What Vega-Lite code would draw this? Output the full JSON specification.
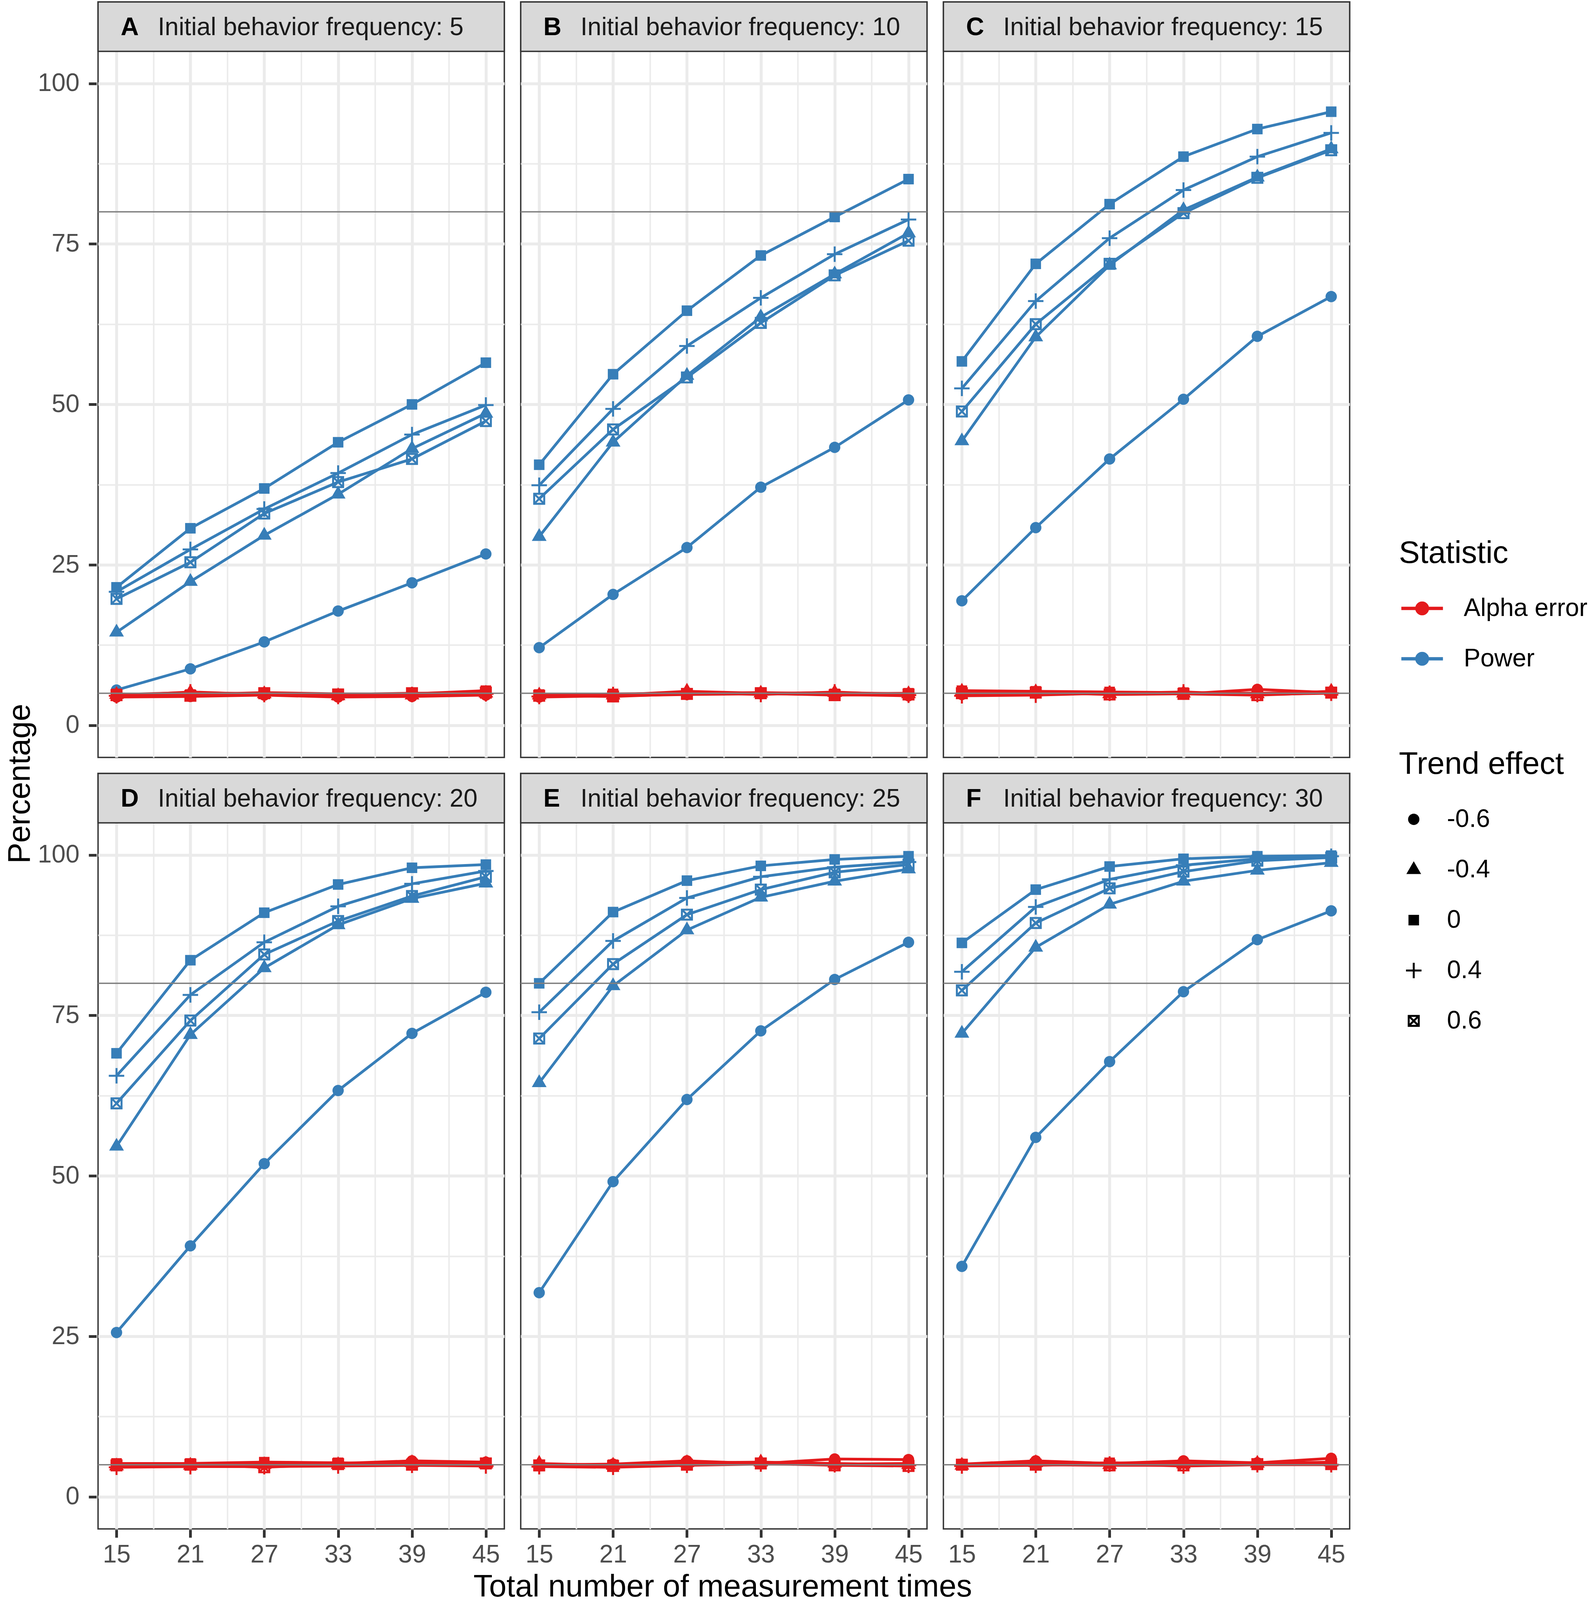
{
  "$schema": "https://vega.github.io/schema/vega-lite/v6.json",
  "padding": {"left": 12, "top": 0, "right": 5, "bottom": 0},
  "background": "white",
  "datasets": {
    "main": [
      {"panel":"A","stat":"Power","trend":"-0.6","n":15,"pct":5.5},{"panel":"A","stat":"Power","trend":"-0.6","n":21,"pct":8.8},{"panel":"A","stat":"Power","trend":"-0.6","n":27,"pct":13.0},{"panel":"A","stat":"Power","trend":"-0.6","n":33,"pct":17.8},{"panel":"A","stat":"Power","trend":"-0.6","n":39,"pct":22.2},{"panel":"A","stat":"Power","trend":"-0.6","n":45,"pct":26.7},
      {"panel":"A","stat":"Power","trend":"-0.4","n":15,"pct":14.5},{"panel":"A","stat":"Power","trend":"-0.4","n":21,"pct":22.4},{"panel":"A","stat":"Power","trend":"-0.4","n":27,"pct":29.6},{"panel":"A","stat":"Power","trend":"-0.4","n":33,"pct":36.0},{"panel":"A","stat":"Power","trend":"-0.4","n":39,"pct":43.1},{"panel":"A","stat":"Power","trend":"-0.4","n":45,"pct":48.6},
      {"panel":"A","stat":"Power","trend":"0","n":15,"pct":21.5},{"panel":"A","stat":"Power","trend":"0","n":21,"pct":30.7},{"panel":"A","stat":"Power","trend":"0","n":27,"pct":36.9},{"panel":"A","stat":"Power","trend":"0","n":33,"pct":44.1},{"panel":"A","stat":"Power","trend":"0","n":39,"pct":50.0},{"panel":"A","stat":"Power","trend":"0","n":45,"pct":56.5},
      {"panel":"A","stat":"Power","trend":"0.4","n":15,"pct":20.8},{"panel":"A","stat":"Power","trend":"0.4","n":21,"pct":27.4},{"panel":"A","stat":"Power","trend":"0.4","n":27,"pct":33.7},{"panel":"A","stat":"Power","trend":"0.4","n":33,"pct":39.3},{"panel":"A","stat":"Power","trend":"0.4","n":39,"pct":45.3},{"panel":"A","stat":"Power","trend":"0.4","n":45,"pct":49.9},
      {"panel":"A","stat":"Power","trend":"0.6","n":15,"pct":19.7},{"panel":"A","stat":"Power","trend":"0.6","n":21,"pct":25.4},{"panel":"A","stat":"Power","trend":"0.6","n":27,"pct":33.0},{"panel":"A","stat":"Power","trend":"0.6","n":33,"pct":37.9},{"panel":"A","stat":"Power","trend":"0.6","n":39,"pct":41.5},{"panel":"A","stat":"Power","trend":"0.6","n":45,"pct":47.4},
      {"panel":"B","stat":"Power","trend":"-0.6","n":15,"pct":12.1},{"panel":"B","stat":"Power","trend":"-0.6","n":21,"pct":20.4},{"panel":"B","stat":"Power","trend":"-0.6","n":27,"pct":27.7},{"panel":"B","stat":"Power","trend":"-0.6","n":33,"pct":37.1},{"panel":"B","stat":"Power","trend":"-0.6","n":39,"pct":43.3},{"panel":"B","stat":"Power","trend":"-0.6","n":45,"pct":50.7},
      {"panel":"B","stat":"Power","trend":"-0.4","n":15,"pct":29.4},{"panel":"B","stat":"Power","trend":"-0.4","n":21,"pct":44.1},{"panel":"B","stat":"Power","trend":"-0.4","n":27,"pct":54.5},{"panel":"B","stat":"Power","trend":"-0.4","n":33,"pct":63.6},{"panel":"B","stat":"Power","trend":"-0.4","n":39,"pct":70.3},{"panel":"B","stat":"Power","trend":"-0.4","n":45,"pct":76.7},
      {"panel":"B","stat":"Power","trend":"0","n":15,"pct":40.6},{"panel":"B","stat":"Power","trend":"0","n":21,"pct":54.7},{"panel":"B","stat":"Power","trend":"0","n":27,"pct":64.6},{"panel":"B","stat":"Power","trend":"0","n":33,"pct":73.2},{"panel":"B","stat":"Power","trend":"0","n":39,"pct":79.2},{"panel":"B","stat":"Power","trend":"0","n":45,"pct":85.1},
      {"panel":"B","stat":"Power","trend":"0.4","n":15,"pct":37.4},{"panel":"B","stat":"Power","trend":"0.4","n":21,"pct":49.3},{"panel":"B","stat":"Power","trend":"0.4","n":27,"pct":59.1},{"panel":"B","stat":"Power","trend":"0.4","n":33,"pct":66.6},{"panel":"B","stat":"Power","trend":"0.4","n":39,"pct":73.4},{"panel":"B","stat":"Power","trend":"0.4","n":45,"pct":78.8},
      {"panel":"B","stat":"Power","trend":"0.6","n":15,"pct":35.3},{"panel":"B","stat":"Power","trend":"0.6","n":21,"pct":46.1},{"panel":"B","stat":"Power","trend":"0.6","n":27,"pct":54.2},{"panel":"B","stat":"Power","trend":"0.6","n":33,"pct":62.7},{"panel":"B","stat":"Power","trend":"0.6","n":39,"pct":70.1},{"panel":"B","stat":"Power","trend":"0.6","n":45,"pct":75.5},
      {"panel":"C","stat":"Power","trend":"-0.6","n":15,"pct":19.4},{"panel":"C","stat":"Power","trend":"-0.6","n":21,"pct":30.8},{"panel":"C","stat":"Power","trend":"-0.6","n":27,"pct":41.5},{"panel":"C","stat":"Power","trend":"-0.6","n":33,"pct":50.8},{"panel":"C","stat":"Power","trend":"-0.6","n":39,"pct":60.6},{"panel":"C","stat":"Power","trend":"-0.6","n":45,"pct":66.8},
      {"panel":"C","stat":"Power","trend":"-0.4","n":15,"pct":44.3},{"panel":"C","stat":"Power","trend":"-0.4","n":21,"pct":60.5},{"panel":"C","stat":"Power","trend":"-0.4","n":27,"pct":71.7},{"panel":"C","stat":"Power","trend":"-0.4","n":33,"pct":80.3},{"panel":"C","stat":"Power","trend":"-0.4","n":39,"pct":85.4},{"panel":"C","stat":"Power","trend":"-0.4","n":45,"pct":89.8},
      {"panel":"C","stat":"Power","trend":"0","n":15,"pct":56.7},{"panel":"C","stat":"Power","trend":"0","n":21,"pct":71.9},{"panel":"C","stat":"Power","trend":"0","n":27,"pct":81.2},{"panel":"C","stat":"Power","trend":"0","n":33,"pct":88.6},{"panel":"C","stat":"Power","trend":"0","n":39,"pct":92.9},{"panel":"C","stat":"Power","trend":"0","n":45,"pct":95.6},
      {"panel":"C","stat":"Power","trend":"0.4","n":15,"pct":52.5},{"panel":"C","stat":"Power","trend":"0.4","n":21,"pct":66.1},{"panel":"C","stat":"Power","trend":"0.4","n":27,"pct":75.9},{"panel":"C","stat":"Power","trend":"0.4","n":33,"pct":83.4},{"panel":"C","stat":"Power","trend":"0.4","n":39,"pct":88.6},{"panel":"C","stat":"Power","trend":"0.4","n":45,"pct":92.3},
      {"panel":"C","stat":"Power","trend":"0.6","n":15,"pct":48.9},{"panel":"C","stat":"Power","trend":"0.6","n":21,"pct":62.5},{"panel":"C","stat":"Power","trend":"0.6","n":27,"pct":71.9},{"panel":"C","stat":"Power","trend":"0.6","n":33,"pct":79.8},{"panel":"C","stat":"Power","trend":"0.6","n":39,"pct":85.3},{"panel":"C","stat":"Power","trend":"0.6","n":45,"pct":89.6},
      {"panel":"D","stat":"Power","trend":"-0.6","n":15,"pct":25.6},{"panel":"D","stat":"Power","trend":"-0.6","n":21,"pct":39.1},{"panel":"D","stat":"Power","trend":"-0.6","n":27,"pct":51.9},{"panel":"D","stat":"Power","trend":"-0.6","n":33,"pct":63.3},{"panel":"D","stat":"Power","trend":"-0.6","n":39,"pct":72.2},{"panel":"D","stat":"Power","trend":"-0.6","n":45,"pct":78.6},
      {"panel":"D","stat":"Power","trend":"-0.4","n":15,"pct":54.6},{"panel":"D","stat":"Power","trend":"-0.4","n":21,"pct":72.0},{"panel":"D","stat":"Power","trend":"-0.4","n":27,"pct":82.4},{"panel":"D","stat":"Power","trend":"-0.4","n":33,"pct":89.1},{"panel":"D","stat":"Power","trend":"-0.4","n":39,"pct":93.2},{"panel":"D","stat":"Power","trend":"-0.4","n":45,"pct":95.6},
      {"panel":"D","stat":"Power","trend":"0","n":15,"pct":69.1},{"panel":"D","stat":"Power","trend":"0","n":21,"pct":83.6},{"panel":"D","stat":"Power","trend":"0","n":27,"pct":91.0},{"panel":"D","stat":"Power","trend":"0","n":33,"pct":95.4},{"panel":"D","stat":"Power","trend":"0","n":39,"pct":98.0},{"panel":"D","stat":"Power","trend":"0","n":45,"pct":98.5},
      {"panel":"D","stat":"Power","trend":"0.4","n":15,"pct":65.6},{"panel":"D","stat":"Power","trend":"0.4","n":21,"pct":78.2},{"panel":"D","stat":"Power","trend":"0.4","n":27,"pct":86.4},{"panel":"D","stat":"Power","trend":"0.4","n":33,"pct":92.0},{"panel":"D","stat":"Power","trend":"0.4","n":39,"pct":95.5},{"panel":"D","stat":"Power","trend":"0.4","n":45,"pct":97.5},
      {"panel":"D","stat":"Power","trend":"0.6","n":15,"pct":61.3},{"panel":"D","stat":"Power","trend":"0.6","n":21,"pct":74.2},{"panel":"D","stat":"Power","trend":"0.6","n":27,"pct":84.5},{"panel":"D","stat":"Power","trend":"0.6","n":33,"pct":89.7},{"panel":"D","stat":"Power","trend":"0.6","n":39,"pct":93.6},{"panel":"D","stat":"Power","trend":"0.6","n":45,"pct":96.6},
      {"panel":"E","stat":"Power","trend":"-0.6","n":15,"pct":31.8},{"panel":"E","stat":"Power","trend":"-0.6","n":21,"pct":49.1},{"panel":"E","stat":"Power","trend":"-0.6","n":27,"pct":61.9},{"panel":"E","stat":"Power","trend":"-0.6","n":33,"pct":72.6},{"panel":"E","stat":"Power","trend":"-0.6","n":39,"pct":80.6},{"panel":"E","stat":"Power","trend":"-0.6","n":45,"pct":86.4},
      {"panel":"E","stat":"Power","trend":"-0.4","n":15,"pct":64.5},{"panel":"E","stat":"Power","trend":"-0.4","n":21,"pct":79.6},{"panel":"E","stat":"Power","trend":"-0.4","n":27,"pct":88.3},{"panel":"E","stat":"Power","trend":"-0.4","n":33,"pct":93.4},{"panel":"E","stat":"Power","trend":"-0.4","n":39,"pct":95.9},{"panel":"E","stat":"Power","trend":"-0.4","n":45,"pct":97.8},
      {"panel":"E","stat":"Power","trend":"0","n":15,"pct":80.0},{"panel":"E","stat":"Power","trend":"0","n":21,"pct":91.1},{"panel":"E","stat":"Power","trend":"0","n":27,"pct":96.0},{"panel":"E","stat":"Power","trend":"0","n":33,"pct":98.3},{"panel":"E","stat":"Power","trend":"0","n":39,"pct":99.3},{"panel":"E","stat":"Power","trend":"0","n":45,"pct":99.8},
      {"panel":"E","stat":"Power","trend":"0.4","n":15,"pct":75.5},{"panel":"E","stat":"Power","trend":"0.4","n":21,"pct":86.6},{"panel":"E","stat":"Power","trend":"0.4","n":27,"pct":93.3},{"panel":"E","stat":"Power","trend":"0.4","n":33,"pct":96.6},{"panel":"E","stat":"Power","trend":"0.4","n":39,"pct":98.1},{"panel":"E","stat":"Power","trend":"0.4","n":45,"pct":98.9},
      {"panel":"E","stat":"Power","trend":"0.6","n":15,"pct":71.4},{"panel":"E","stat":"Power","trend":"0.6","n":21,"pct":83.0},{"panel":"E","stat":"Power","trend":"0.6","n":27,"pct":90.7},{"panel":"E","stat":"Power","trend":"0.6","n":33,"pct":94.6},{"panel":"E","stat":"Power","trend":"0.6","n":39,"pct":97.3},{"panel":"E","stat":"Power","trend":"0.6","n":45,"pct":98.5},
      {"panel":"F","stat":"Power","trend":"-0.6","n":15,"pct":35.9},{"panel":"F","stat":"Power","trend":"-0.6","n":21,"pct":56.0},{"panel":"F","stat":"Power","trend":"-0.6","n":27,"pct":67.8},{"panel":"F","stat":"Power","trend":"-0.6","n":33,"pct":78.7},{"panel":"F","stat":"Power","trend":"-0.6","n":39,"pct":86.8},{"panel":"F","stat":"Power","trend":"-0.6","n":45,"pct":91.3},
      {"panel":"F","stat":"Power","trend":"-0.4","n":15,"pct":72.2},{"panel":"F","stat":"Power","trend":"-0.4","n":21,"pct":85.6},{"panel":"F","stat":"Power","trend":"-0.4","n":27,"pct":92.3},{"panel":"F","stat":"Power","trend":"-0.4","n":33,"pct":95.9},{"panel":"F","stat":"Power","trend":"-0.4","n":39,"pct":97.6},{"panel":"F","stat":"Power","trend":"-0.4","n":45,"pct":98.8},
      {"panel":"F","stat":"Power","trend":"0","n":15,"pct":86.3},{"panel":"F","stat":"Power","trend":"0","n":21,"pct":94.6},{"panel":"F","stat":"Power","trend":"0","n":27,"pct":98.2},{"panel":"F","stat":"Power","trend":"0","n":33,"pct":99.4},{"panel":"F","stat":"Power","trend":"0","n":39,"pct":99.8},{"panel":"F","stat":"Power","trend":"0","n":45,"pct":99.9},
      {"panel":"F","stat":"Power","trend":"0.4","n":15,"pct":81.8},{"panel":"F","stat":"Power","trend":"0.4","n":21,"pct":91.9},{"panel":"F","stat":"Power","trend":"0.4","n":27,"pct":96.2},{"panel":"F","stat":"Power","trend":"0.4","n":33,"pct":98.4},{"panel":"F","stat":"Power","trend":"0.4","n":39,"pct":99.4},{"panel":"F","stat":"Power","trend":"0.4","n":45,"pct":99.8},
      {"panel":"F","stat":"Power","trend":"0.6","n":15,"pct":78.9},{"panel":"F","stat":"Power","trend":"0.6","n":21,"pct":89.4},{"panel":"F","stat":"Power","trend":"0.6","n":27,"pct":94.8},{"panel":"F","stat":"Power","trend":"0.6","n":33,"pct":97.4},{"panel":"F","stat":"Power","trend":"0.6","n":39,"pct":99.1},{"panel":"F","stat":"Power","trend":"0.6","n":45,"pct":99.6},
      {"panel":"A","stat":"Alpha error","trend":"-0.6","n":15,"pct":4.4},{"panel":"A","stat":"Alpha error","trend":"-0.6","n":21,"pct":4.5},{"panel":"A","stat":"Alpha error","trend":"-0.6","n":27,"pct":4.7},{"panel":"A","stat":"Alpha error","trend":"-0.6","n":33,"pct":4.4},{"panel":"A","stat":"Alpha error","trend":"-0.6","n":39,"pct":4.5},{"panel":"A","stat":"Alpha error","trend":"-0.6","n":45,"pct":4.7},
      {"panel":"A","stat":"Alpha error","trend":"-0.4","n":15,"pct":4.8},{"panel":"A","stat":"Alpha error","trend":"-0.4","n":21,"pct":5.1},{"panel":"A","stat":"Alpha error","trend":"-0.4","n":27,"pct":4.9},{"panel":"A","stat":"Alpha error","trend":"-0.4","n":33,"pct":4.6},{"panel":"A","stat":"Alpha error","trend":"-0.4","n":39,"pct":4.7},{"panel":"A","stat":"Alpha error","trend":"-0.4","n":45,"pct":5.0},
      {"panel":"A","stat":"Alpha error","trend":"0","n":15,"pct":4.9},{"panel":"A","stat":"Alpha error","trend":"0","n":21,"pct":4.8},{"panel":"A","stat":"Alpha error","trend":"0","n":27,"pct":5.1},{"panel":"A","stat":"Alpha error","trend":"0","n":33,"pct":4.9},{"panel":"A","stat":"Alpha error","trend":"0","n":39,"pct":4.9},{"panel":"A","stat":"Alpha error","trend":"0","n":45,"pct":5.4},
      {"panel":"A","stat":"Alpha error","trend":"0.4","n":15,"pct":4.6},{"panel":"A","stat":"Alpha error","trend":"0.4","n":21,"pct":5.2},{"panel":"A","stat":"Alpha error","trend":"0.4","n":27,"pct":4.8},{"panel":"A","stat":"Alpha error","trend":"0.4","n":33,"pct":4.5},{"panel":"A","stat":"Alpha error","trend":"0.4","n":39,"pct":4.8},{"panel":"A","stat":"Alpha error","trend":"0.4","n":45,"pct":4.9},
      {"panel":"A","stat":"Alpha error","trend":"0.6","n":15,"pct":4.7},{"panel":"A","stat":"Alpha error","trend":"0.6","n":21,"pct":4.6},{"panel":"A","stat":"Alpha error","trend":"0.6","n":27,"pct":5.0},{"panel":"A","stat":"Alpha error","trend":"0.6","n":33,"pct":4.8},{"panel":"A","stat":"Alpha error","trend":"0.6","n":39,"pct":5.0},{"panel":"A","stat":"Alpha error","trend":"0.6","n":45,"pct":5.1},
      {"panel":"B","stat":"Alpha error","trend":"-0.6","n":15,"pct":4.4},{"panel":"B","stat":"Alpha error","trend":"-0.6","n":21,"pct":4.6},{"panel":"B","stat":"Alpha error","trend":"-0.6","n":27,"pct":4.8},{"panel":"B","stat":"Alpha error","trend":"-0.6","n":33,"pct":4.9},{"panel":"B","stat":"Alpha error","trend":"-0.6","n":39,"pct":4.8},{"panel":"B","stat":"Alpha error","trend":"-0.6","n":45,"pct":4.6},
      {"panel":"B","stat":"Alpha error","trend":"-0.4","n":15,"pct":4.7},{"panel":"B","stat":"Alpha error","trend":"-0.4","n":21,"pct":4.7},{"panel":"B","stat":"Alpha error","trend":"-0.4","n":27,"pct":5.3},{"panel":"B","stat":"Alpha error","trend":"-0.4","n":33,"pct":5.0},{"panel":"B","stat":"Alpha error","trend":"-0.4","n":39,"pct":5.1},{"panel":"B","stat":"Alpha error","trend":"-0.4","n":45,"pct":4.9},
      {"panel":"B","stat":"Alpha error","trend":"0","n":15,"pct":4.8},{"panel":"B","stat":"Alpha error","trend":"0","n":21,"pct":4.9},{"panel":"B","stat":"Alpha error","trend":"0","n":27,"pct":5.0},{"panel":"B","stat":"Alpha error","trend":"0","n":33,"pct":5.1},{"panel":"B","stat":"Alpha error","trend":"0","n":39,"pct":4.9},{"panel":"B","stat":"Alpha error","trend":"0","n":45,"pct":5.0},
      {"panel":"B","stat":"Alpha error","trend":"0.4","n":15,"pct":4.5},{"panel":"B","stat":"Alpha error","trend":"0.4","n":21,"pct":4.8},{"panel":"B","stat":"Alpha error","trend":"0.4","n":27,"pct":5.1},{"panel":"B","stat":"Alpha error","trend":"0.4","n":33,"pct":4.8},{"panel":"B","stat":"Alpha error","trend":"0.4","n":39,"pct":5.2},{"panel":"B","stat":"Alpha error","trend":"0.4","n":45,"pct":4.7},
      {"panel":"B","stat":"Alpha error","trend":"0.6","n":15,"pct":4.6},{"panel":"B","stat":"Alpha error","trend":"0.6","n":21,"pct":4.5},{"panel":"B","stat":"Alpha error","trend":"0.6","n":27,"pct":4.9},{"panel":"B","stat":"Alpha error","trend":"0.6","n":33,"pct":5.0},{"panel":"B","stat":"Alpha error","trend":"0.6","n":39,"pct":4.7},{"panel":"B","stat":"Alpha error","trend":"0.6","n":45,"pct":4.8},
      {"panel":"C","stat":"Alpha error","trend":"-0.6","n":15,"pct":4.8},{"panel":"C","stat":"Alpha error","trend":"-0.6","n":21,"pct":5.0},{"panel":"C","stat":"Alpha error","trend":"-0.6","n":27,"pct":5.1},{"panel":"C","stat":"Alpha error","trend":"-0.6","n":33,"pct":4.9},{"panel":"C","stat":"Alpha error","trend":"-0.6","n":39,"pct":5.6},{"panel":"C","stat":"Alpha error","trend":"-0.6","n":45,"pct":5.1},
      {"panel":"C","stat":"Alpha error","trend":"-0.4","n":15,"pct":5.3},{"panel":"C","stat":"Alpha error","trend":"-0.4","n":21,"pct":5.2},{"panel":"C","stat":"Alpha error","trend":"-0.4","n":27,"pct":4.9},{"panel":"C","stat":"Alpha error","trend":"-0.4","n":33,"pct":5.0},{"panel":"C","stat":"Alpha error","trend":"-0.4","n":39,"pct":4.9},{"panel":"C","stat":"Alpha error","trend":"-0.4","n":45,"pct":5.3},
      {"panel":"C","stat":"Alpha error","trend":"0","n":15,"pct":5.4},{"panel":"C","stat":"Alpha error","trend":"0","n":21,"pct":5.3},{"panel":"C","stat":"Alpha error","trend":"0","n":27,"pct":5.2},{"panel":"C","stat":"Alpha error","trend":"0","n":33,"pct":5.1},{"panel":"C","stat":"Alpha error","trend":"0","n":39,"pct":5.0},{"panel":"C","stat":"Alpha error","trend":"0","n":45,"pct":5.2},
      {"panel":"C","stat":"Alpha error","trend":"0.4","n":15,"pct":4.6},{"panel":"C","stat":"Alpha error","trend":"0.4","n":21,"pct":4.7},{"panel":"C","stat":"Alpha error","trend":"0.4","n":27,"pct":5.0},{"panel":"C","stat":"Alpha error","trend":"0.4","n":33,"pct":5.2},{"panel":"C","stat":"Alpha error","trend":"0.4","n":39,"pct":4.8},{"panel":"C","stat":"Alpha error","trend":"0.4","n":45,"pct":5.0},
      {"panel":"C","stat":"Alpha error","trend":"0.6","n":15,"pct":5.0},{"panel":"C","stat":"Alpha error","trend":"0.6","n":21,"pct":5.1},{"panel":"C","stat":"Alpha error","trend":"0.6","n":27,"pct":4.8},{"panel":"C","stat":"Alpha error","trend":"0.6","n":33,"pct":4.9},{"panel":"C","stat":"Alpha error","trend":"0.6","n":39,"pct":4.7},{"panel":"C","stat":"Alpha error","trend":"0.6","n":45,"pct":5.1},
      {"panel":"D","stat":"Alpha error","trend":"-0.6","n":15,"pct":5.0},{"panel":"D","stat":"Alpha error","trend":"-0.6","n":21,"pct":5.1},{"panel":"D","stat":"Alpha error","trend":"-0.6","n":27,"pct":5.3},{"panel":"D","stat":"Alpha error","trend":"-0.6","n":33,"pct":5.2},{"panel":"D","stat":"Alpha error","trend":"-0.6","n":39,"pct":5.6},{"panel":"D","stat":"Alpha error","trend":"-0.6","n":45,"pct":5.4},
      {"panel":"D","stat":"Alpha error","trend":"-0.4","n":15,"pct":4.8},{"panel":"D","stat":"Alpha error","trend":"-0.4","n":21,"pct":4.9},{"panel":"D","stat":"Alpha error","trend":"-0.4","n":27,"pct":5.0},{"panel":"D","stat":"Alpha error","trend":"-0.4","n":33,"pct":5.0},{"panel":"D","stat":"Alpha error","trend":"-0.4","n":39,"pct":5.3},{"panel":"D","stat":"Alpha error","trend":"-0.4","n":45,"pct":5.1},
      {"panel":"D","stat":"Alpha error","trend":"0","n":15,"pct":5.2},{"panel":"D","stat":"Alpha error","trend":"0","n":21,"pct":5.2},{"panel":"D","stat":"Alpha error","trend":"0","n":27,"pct":5.4},{"panel":"D","stat":"Alpha error","trend":"0","n":33,"pct":5.3},{"panel":"D","stat":"Alpha error","trend":"0","n":39,"pct":5.2},{"panel":"D","stat":"Alpha error","trend":"0","n":45,"pct":5.3},
      {"panel":"D","stat":"Alpha error","trend":"0.4","n":15,"pct":4.6},{"panel":"D","stat":"Alpha error","trend":"0.4","n":21,"pct":4.7},{"panel":"D","stat":"Alpha error","trend":"0.4","n":27,"pct":4.7},{"panel":"D","stat":"Alpha error","trend":"0.4","n":33,"pct":4.8},{"panel":"D","stat":"Alpha error","trend":"0.4","n":39,"pct":4.9},{"panel":"D","stat":"Alpha error","trend":"0.4","n":45,"pct":4.8},
      {"panel":"D","stat":"Alpha error","trend":"0.6","n":15,"pct":4.9},{"panel":"D","stat":"Alpha error","trend":"0.6","n":21,"pct":5.0},{"panel":"D","stat":"Alpha error","trend":"0.6","n":27,"pct":4.6},{"panel":"D","stat":"Alpha error","trend":"0.6","n":33,"pct":5.1},{"panel":"D","stat":"Alpha error","trend":"0.6","n":39,"pct":5.0},{"panel":"D","stat":"Alpha error","trend":"0.6","n":45,"pct":5.2},
      {"panel":"E","stat":"Alpha error","trend":"-0.6","n":15,"pct":5.0},{"panel":"E","stat":"Alpha error","trend":"-0.6","n":21,"pct":5.1},{"panel":"E","stat":"Alpha error","trend":"-0.6","n":27,"pct":5.6},{"panel":"E","stat":"Alpha error","trend":"-0.6","n":33,"pct":5.2},{"panel":"E","stat":"Alpha error","trend":"-0.6","n":39,"pct":5.9},{"panel":"E","stat":"Alpha error","trend":"-0.6","n":45,"pct":5.8},
      {"panel":"E","stat":"Alpha error","trend":"-0.4","n":15,"pct":5.2},{"panel":"E","stat":"Alpha error","trend":"-0.4","n":21,"pct":4.9},{"panel":"E","stat":"Alpha error","trend":"-0.4","n":27,"pct":5.3},{"panel":"E","stat":"Alpha error","trend":"-0.4","n":33,"pct":5.4},{"panel":"E","stat":"Alpha error","trend":"-0.4","n":39,"pct":5.2},{"panel":"E","stat":"Alpha error","trend":"-0.4","n":45,"pct":5.0},
      {"panel":"E","stat":"Alpha error","trend":"0","n":15,"pct":4.8},{"panel":"E","stat":"Alpha error","trend":"0","n":21,"pct":5.0},{"panel":"E","stat":"Alpha error","trend":"0","n":27,"pct":5.1},{"panel":"E","stat":"Alpha error","trend":"0","n":33,"pct":5.3},{"panel":"E","stat":"Alpha error","trend":"0","n":39,"pct":5.1},{"panel":"E","stat":"Alpha error","trend":"0","n":45,"pct":5.2},
      {"panel":"E","stat":"Alpha error","trend":"0.4","n":15,"pct":4.7},{"panel":"E","stat":"Alpha error","trend":"0.4","n":21,"pct":4.6},{"panel":"E","stat":"Alpha error","trend":"0.4","n":27,"pct":4.9},{"panel":"E","stat":"Alpha error","trend":"0.4","n":33,"pct":5.1},{"panel":"E","stat":"Alpha error","trend":"0.4","n":39,"pct":5.0},{"panel":"E","stat":"Alpha error","trend":"0.4","n":45,"pct":4.9},
      {"panel":"E","stat":"Alpha error","trend":"0.6","n":15,"pct":4.9},{"panel":"E","stat":"Alpha error","trend":"0.6","n":21,"pct":4.8},{"panel":"E","stat":"Alpha error","trend":"0.6","n":27,"pct":5.0},{"panel":"E","stat":"Alpha error","trend":"0.6","n":33,"pct":5.2},{"panel":"E","stat":"Alpha error","trend":"0.6","n":39,"pct":4.9},{"panel":"E","stat":"Alpha error","trend":"0.6","n":45,"pct":4.8},
      {"panel":"F","stat":"Alpha error","trend":"-0.6","n":15,"pct":5.1},{"panel":"F","stat":"Alpha error","trend":"-0.6","n":21,"pct":5.6},{"panel":"F","stat":"Alpha error","trend":"-0.6","n":27,"pct":5.2},{"panel":"F","stat":"Alpha error","trend":"-0.6","n":33,"pct":5.6},{"panel":"F","stat":"Alpha error","trend":"-0.6","n":39,"pct":5.3},{"panel":"F","stat":"Alpha error","trend":"-0.6","n":45,"pct":6.0},
      {"panel":"F","stat":"Alpha error","trend":"-0.4","n":15,"pct":4.9},{"panel":"F","stat":"Alpha error","trend":"-0.4","n":21,"pct":5.3},{"panel":"F","stat":"Alpha error","trend":"-0.4","n":27,"pct":5.0},{"panel":"F","stat":"Alpha error","trend":"-0.4","n":33,"pct":5.1},{"panel":"F","stat":"Alpha error","trend":"-0.4","n":39,"pct":5.2},{"panel":"F","stat":"Alpha error","trend":"-0.4","n":45,"pct":5.4},
      {"panel":"F","stat":"Alpha error","trend":"0","n":15,"pct":5.0},{"panel":"F","stat":"Alpha error","trend":"0","n":21,"pct":5.1},{"panel":"F","stat":"Alpha error","trend":"0","n":27,"pct":5.3},{"panel":"F","stat":"Alpha error","trend":"0","n":33,"pct":5.2},{"panel":"F","stat":"Alpha error","trend":"0","n":39,"pct":5.0},{"panel":"F","stat":"Alpha error","trend":"0","n":45,"pct":5.2},
      {"panel":"F","stat":"Alpha error","trend":"0.4","n":15,"pct":4.8},{"panel":"F","stat":"Alpha error","trend":"0.4","n":21,"pct":4.9},{"panel":"F","stat":"Alpha error","trend":"0.4","n":27,"pct":5.1},{"panel":"F","stat":"Alpha error","trend":"0.4","n":33,"pct":4.8},{"panel":"F","stat":"Alpha error","trend":"0.4","n":39,"pct":5.0},{"panel":"F","stat":"Alpha error","trend":"0.4","n":45,"pct":5.0},
      {"panel":"F","stat":"Alpha error","trend":"0.6","n":15,"pct":5.0},{"panel":"F","stat":"Alpha error","trend":"0.6","n":21,"pct":5.0},{"panel":"F","stat":"Alpha error","trend":"0.6","n":27,"pct":4.9},{"panel":"F","stat":"Alpha error","trend":"0.6","n":33,"pct":4.9},{"panel":"F","stat":"Alpha error","trend":"0.6","n":39,"pct":5.1},{"panel":"F","stat":"Alpha error","trend":"0.6","n":45,"pct":5.1}
    ]
  },
  "config": {
    "font": "Liberation Sans",
    "view": {"stroke": "#333333", "strokeWidth": 3.5, "fill": "white"},
    "axis": {
      "labelFont": "Liberation Sans", "labelFontSize": 64, "labelColor": "#4D4D4D",
      "labelFlush": false, "labelOverlap": false, "labelLimit": 1000,
      "tickColor": "#333333", "tickWidth": 7, "tickSize": 20,
      "domain": false, "gridColor": "#EBEBEB", "grid": true
    },
    "title": {"font": "Liberation Sans", "fontSize": 80, "fontWeight": "normal", "color": "black"},
    "legend": {
      "orient": "none",
      "labelFont": "Liberation Sans", "titleFont": "Liberation Sans",
      "labelFontSize": 64, "titleFontSize": 80, "titleFontWeight": "normal",
      "titleColor": "black", "labelColor": "black",
      "labelLimit": 1000, "titleLimit": 1000,
      "symbolSize": 11025, "clipHeight": 129, "rowPadding": 0,
      "labelOffset": 53, "symbolOffset": 6, "titlePadding": 35, "padding": 0
    }
  },
  "title": {"text": "Total number of measurement times", "orient": "bottom", "anchor": "middle", "offset": 12, "dx": -188},
  "vconcat": [
    {
      "data": {"name": "main"},
      "title": {"text": "Percentage", "orient": "left", "anchor": "middle", "offset": 3},
      "facet": {"field": "panel", "type": "nominal", "header": {"title": null, "labels": false, "labelExpr": "''", "labelFontSize": 1, "labelPadding": 0}},
      "columns": 3,
      "spacing": 34,
      "spec": {
        "width": 1040,
        "height": 1934,
        "layer": [
          {
            "mark": {"type": "line", "strokeWidth": 7},
            "encoding": {
              "x": {"field": "n", "type": "quantitative",
                "scale": {"domain": [13.5, 46.5], "nice": false, "zero": false},
                "axis": {"title": null, "values": [15,18,21,24,27,30,33,36,39,42,45],
                  "labelExpr": "(datum.value - 15) % 6 === 0 ? '' + datum.value : ''",
                  "gridWidth": {"condition": {"test": "(datum.value - 15) % 6 === 0", "value": 7.5}, "value": 3.8},
                  "tickOpacity": {"condition": {"test": "(datum.value - 15) % 6 === 0", "value": 1}, "value": 0},
                  "labelPadding": 12}},
              "y": {"field": "pct", "type": "quantitative",
                "scale": {"domain": [-5, 112.7], "nice": false, "zero": false},
                "axis": {"title": null, "values": [0,12.5,25,37.5,50,62.5,75,87.5,100],
                  "labelExpr": "datum.value % 25 === 0 ? '' + datum.value : ''",
                  "gridWidth": {"condition": {"test": "datum.value % 25 === 0", "value": 7.5}, "value": 3.8},
                  "tickOpacity": {"condition": {"test": "datum.value % 25 === 0", "value": 1}, "value": 0},
                  "labelPadding": 24}},
              "color": {"field": "stat", "type": "nominal",
                "scale": {"domain": ["Alpha error", "Power"], "range": ["#E41A1C", "#377EB8"]}},
              "detail": {"field": "trend", "type": "nominal"}
            }
          },
          {
            "transform": [{"filter": "datum.trend === '-0.6' || datum.trend === '-0.4' || datum.trend === '0'"}],
            "mark": {"type": "point", "filled": true, "size": 11025, "opacity": 1, "strokeWidth": 0},
            "encoding": {
              "x": {"field": "n", "type": "quantitative"},
              "y": {"field": "pct", "type": "quantitative"},
              "color": {"field": "stat", "type": "nominal",
                "scale": {"domain": ["Alpha error", "Power"], "range": ["#E41A1C", "#377EB8"]},
                "legend": {"title": "Statistic", "legendX": 3330, "legendY": 1373,
                  "symbolType": "M-1,-0.067L-0.3,-0.067L-0.3,0.067L-1,0.067Z M0.3,-0.067L1,-0.067L1,0.067L0.3,0.067Z M-0.324,0A0.324,0.324 0 1,1 0.324,0A0.324,0.324 0 1,1 -0.324,0Z"}},
              "shape": {"field": "trend", "type": "nominal",
                "scale": {"domain": ["-0.6", "-0.4", "0", "0.4", "0.6"],
                  "range": ["M-0.276,0A0.276,0.276 0 1,1 0.276,0A0.276,0.276 0 1,1 -0.276,0Z", "M0,-0.415L0.36,0.208L-0.36,0.208Z", "M-0.257,-0.257L0.257,-0.257L0.257,0.257L-0.257,0.257Z", "M-0.377,0L0.377,0M0,-0.377L0,0.377", "M-0.245,-0.245L0.245,-0.245L0.245,0.245L-0.245,0.245Z M-0.245,-0.245L0.245,0.245M-0.245,0.245L0.245,-0.245"]},
                "legend": {"title": "Trend effect", "legendX": 3330, "legendY": 1913,
                  "encoding": {"symbols": {
                    "fill": {"value": {"expr": "(datum.value === '0.4' || datum.value === '0.6') ? 'transparent' : 'black'"}},
                    "stroke": {"value": "black"},
                    "strokeWidth": {"value": {"expr": "(datum.value === '0.4' || datum.value === '0.6') ? 5 : 0"}},
                    "opacity": {"value": 1}}}}}
            }
          },
          {
            "transform": [{"filter": "datum.trend === '0.4' || datum.trend === '0.6'"}],
            "mark": {"type": "point", "filled": false, "size": 11025, "opacity": 1, "strokeWidth": 5},
            "encoding": {
              "x": {"field": "n", "type": "quantitative"},
              "y": {"field": "pct", "type": "quantitative"},
              "color": {"field": "stat", "type": "nominal",
                "scale": {"domain": ["Alpha error", "Power"], "range": ["#E41A1C", "#377EB8"]},
                "legend": {"title": "Statistic", "legendX": 3330, "legendY": 1373,
                  "symbolType": "M-1,-0.067L-0.3,-0.067L-0.3,0.067L-1,0.067Z M0.3,-0.067L1,-0.067L1,0.067L0.3,0.067Z M-0.324,0A0.324,0.324 0 1,1 0.324,0A0.324,0.324 0 1,1 -0.324,0Z"}},
              "shape": {"field": "trend", "type": "nominal",
                "scale": {"domain": ["-0.6", "-0.4", "0", "0.4", "0.6"],
                  "range": ["M-0.276,0A0.276,0.276 0 1,1 0.276,0A0.276,0.276 0 1,1 -0.276,0Z", "M0,-0.415L0.36,0.208L-0.36,0.208Z", "M-0.257,-0.257L0.257,-0.257L0.257,0.257L-0.257,0.257Z", "M-0.377,0L0.377,0M0,-0.377L0,0.377", "M-0.245,-0.245L0.245,-0.245L0.245,0.245L-0.245,0.245Z M-0.245,-0.245L0.245,0.245M-0.245,0.245L0.245,-0.245"]},
                "legend": {"title": "Trend effect", "legendX": 3330, "legendY": 1913,
                  "encoding": {"symbols": {
                    "fill": {"value": {"expr": "(datum.value === '0.4' || datum.value === '0.6') ? 'transparent' : 'black'"}},
                    "stroke": {"value": "black"},
                    "strokeWidth": {"value": {"expr": "(datum.value === '0.4' || datum.value === '0.6') ? 5 : 0"}},
                    "opacity": {"value": 1}}}}}
            }
          },
          {
            "transform": [{"filter": "datum.n === 15 && datum.stat === 'Power' && datum.trend === '0'"}],
            "mark": {"type": "rule", "color": "#808080", "strokeWidth": 3.5},
            "encoding": {"y": {"datum": 5, "type": "quantitative"}}
          },
          {
            "transform": [{"filter": "datum.n === 15 && datum.stat === 'Power' && datum.trend === '0'"}],
            "mark": {"type": "rule", "color": "#808080", "strokeWidth": 3.5},
            "encoding": {"y": {"datum": 80, "type": "quantitative"}}
          },
          {
            "transform": [{"filter": "datum.n === 15 && datum.stat === 'Power' && datum.trend === '0'"}],
            "mark": {"type": "rect", "fill": "#D9D9D9", "stroke": "#333333", "strokeWidth": 3.5},
            "encoding": {
              "x": {"datum": 13.5, "type": "quantitative"},
              "x2": {"datum": 46.5},
              "y": {"datum": 105, "type": "quantitative"},
              "y2": {"datum": 112.7}
            }
          },
          {
            "transform": [{"filter": "datum.n === 15 && datum.stat === 'Power' && datum.trend === '0'"}],
            "mark": {"type": "text", "fontSize": 64, "fontWeight": "bold", "color": "black", "align": "left", "baseline": "alphabetic", "dx": -462},
            "encoding": {
              "x": {"datum": 30, "type": "quantitative"},
              "y": {"datum": 107.5, "type": "quantitative"},
              "text": {"field": "panel", "type": "nominal"}
            }
          },
          {
            "transform": [{"filter": "datum.n === 15 && datum.stat === 'Power' && datum.trend === '0'"}],
            "mark": {"type": "text", "fontSize": 64, "color": "#1A1A1A", "align": "left", "baseline": "alphabetic", "dx": -367},
            "encoding": {
              "x": {"datum": 30, "type": "quantitative"},
              "y": {"datum": 107.5, "type": "quantitative"},
              "text": {
                "condition": [
                  {"test": "datum.panel === 'A'", "value": "Initial behavior frequency: 5"},
                  {"test": "datum.panel === 'B'", "value": "Initial behavior frequency: 10"},
                  {"test": "datum.panel === 'C'", "value": "Initial behavior frequency: 15"},
                  {"test": "datum.panel === 'D'", "value": "Initial behavior frequency: 20"},
                  {"test": "datum.panel === 'E'", "value": "Initial behavior frequency: 25"}
                ],
                "value": "Initial behavior frequency: 30"
              }
            }
          }
        ]
      }
    }
  ]
}
